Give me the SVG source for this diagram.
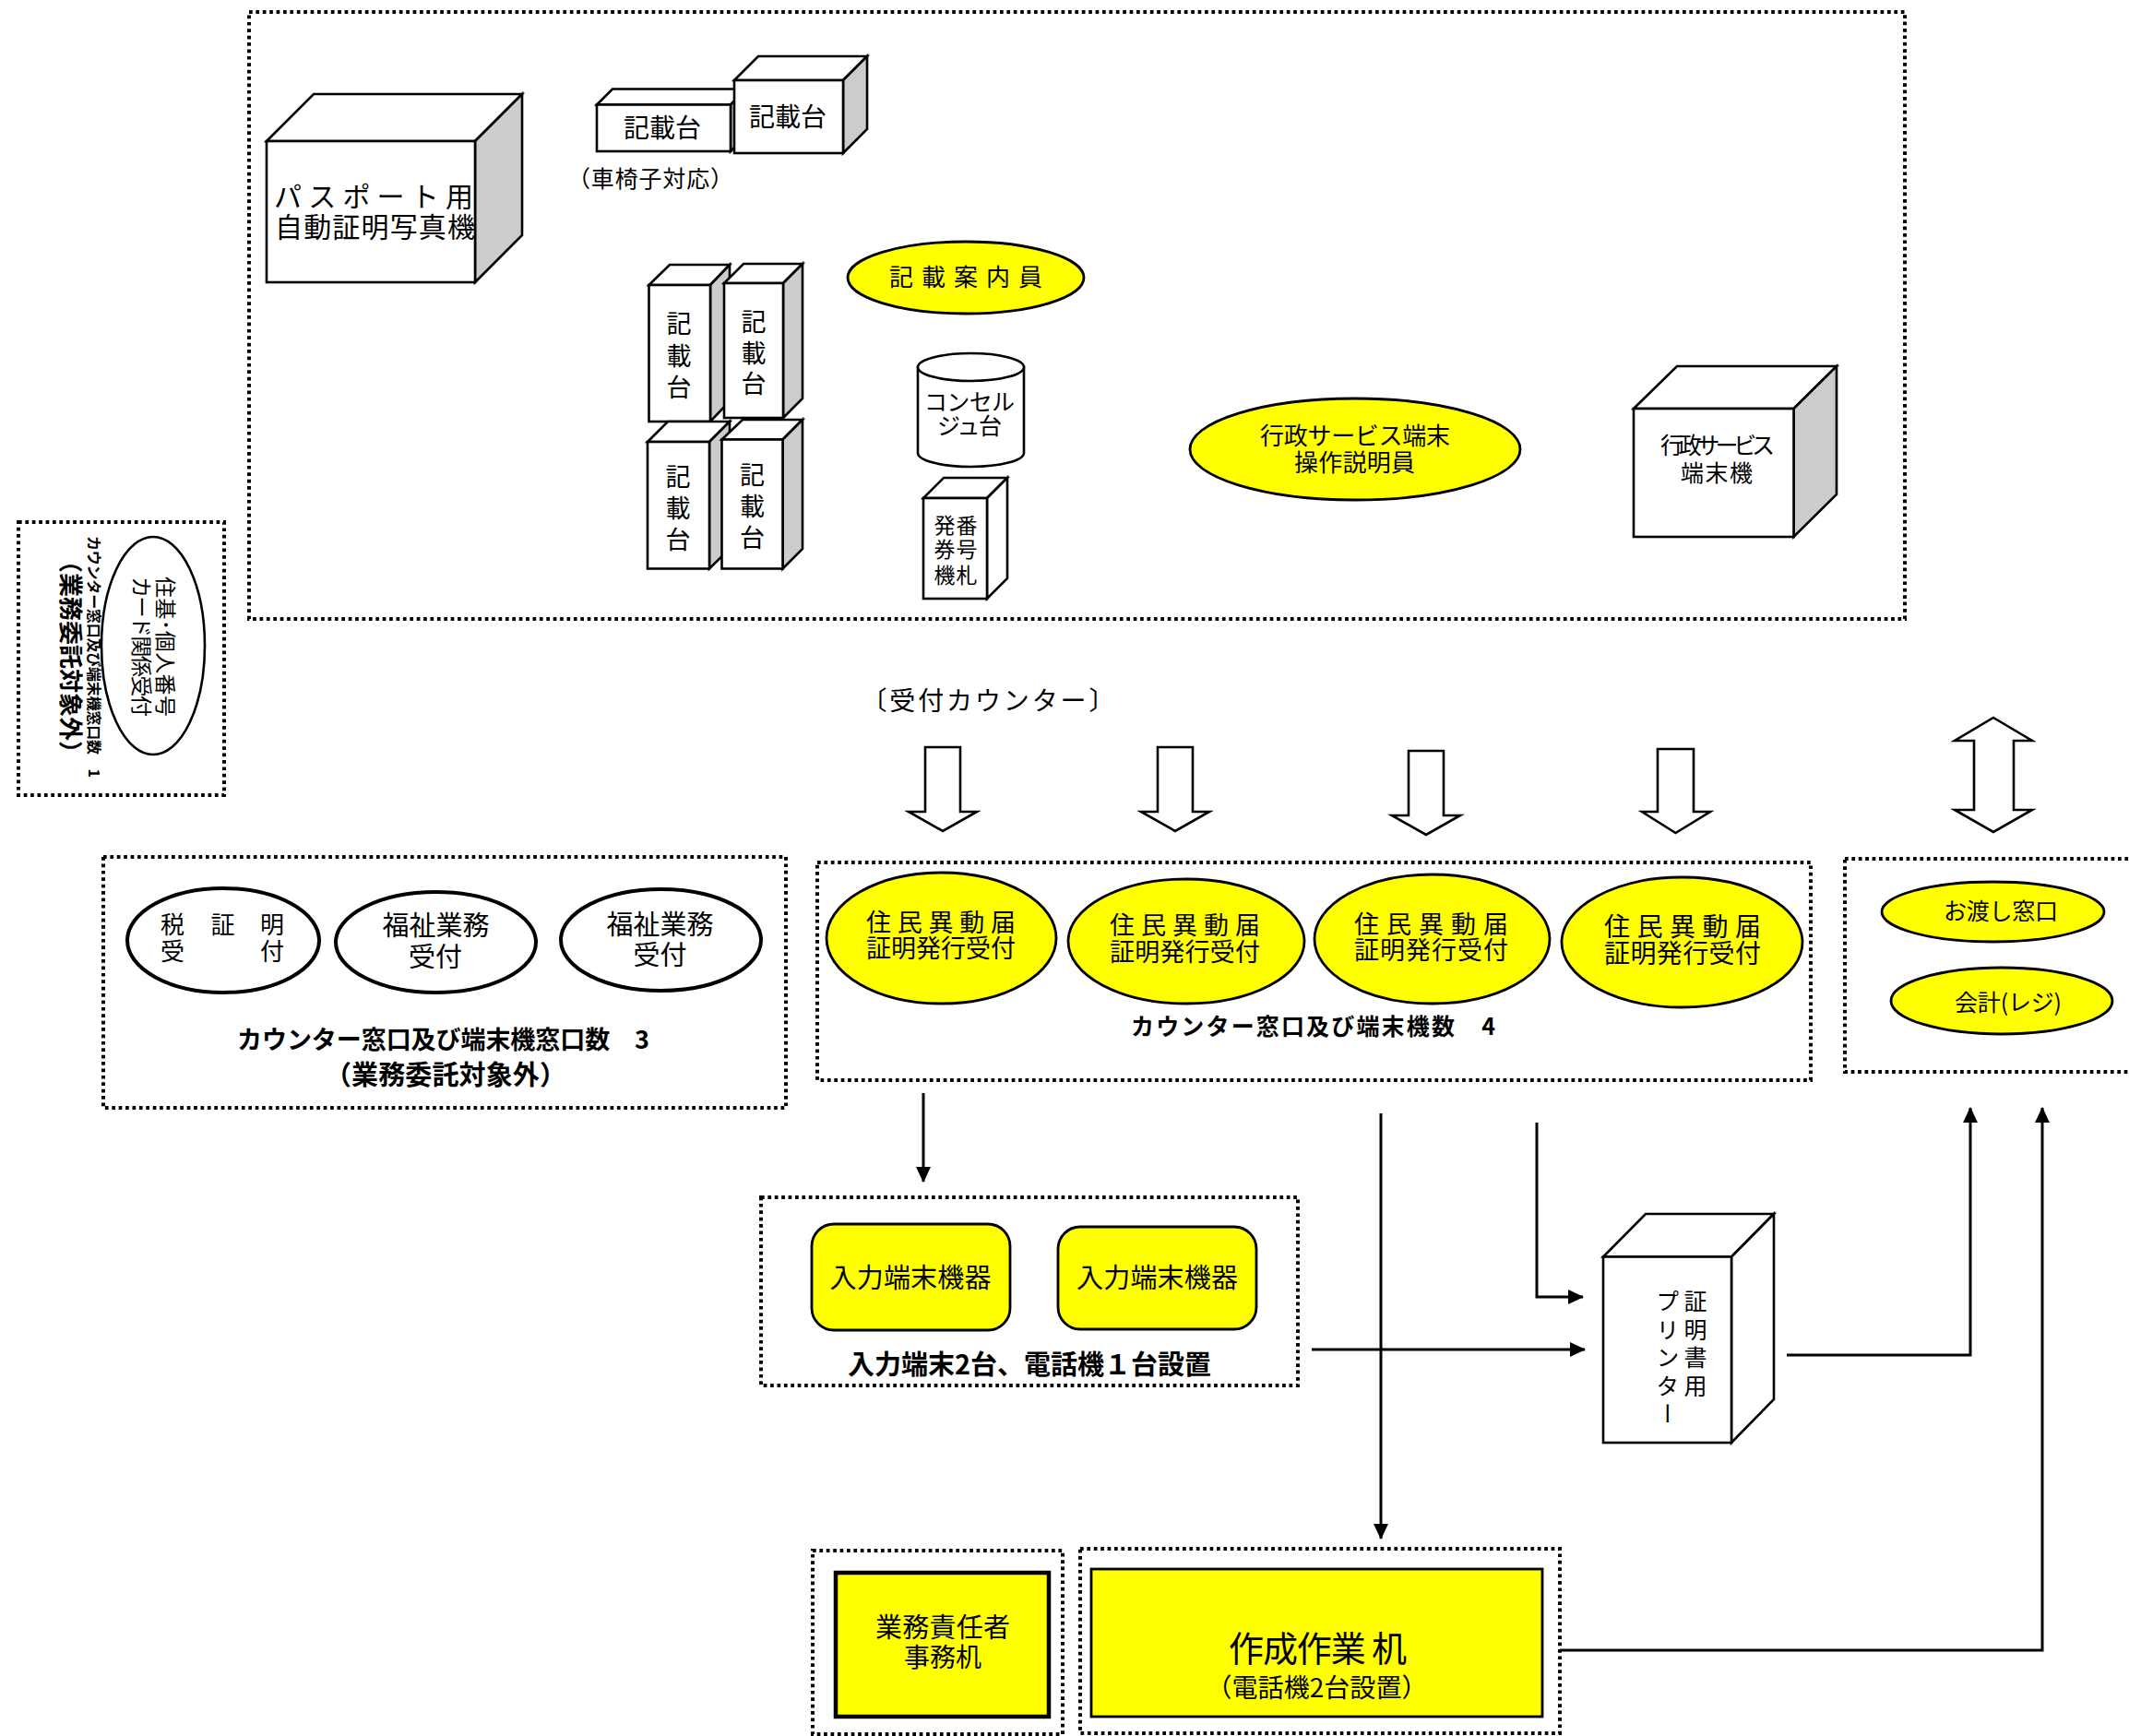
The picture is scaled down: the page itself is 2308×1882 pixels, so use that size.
<svg xmlns="http://www.w3.org/2000/svg" width="2308" height="1882" viewBox="0 0 2308 1882">
<style>
text{font-family:"Noto Sans CJK JP","Noto Sans",sans-serif;fill:#000;text-anchor:middle;dominant-baseline:central;font-size:26px}
.b{font-weight:700}
.frame{fill:none;stroke:#000;stroke-width:4;stroke-dasharray:3.7 3.7}
.s{fill:#fff;stroke:#000;stroke-width:2.6;stroke-linejoin:miter}
.g{fill:#ccc;stroke:#000;stroke-width:2.6}
.y{fill:#ff0;stroke:#000;stroke-width:2.8}
.o{fill:#fff;stroke:#000;stroke-width:4}
.h{fill:#fff;stroke:#000;stroke-width:2.6}
.c{fill:none;stroke:#000;stroke-width:3}
.v{writing-mode:vertical-rl;text-anchor:start}
</style>
<defs>
<marker id="a" markerUnits="userSpaceOnUse" markerWidth="17" markerHeight="16" refX="16" refY="8" orient="auto"><path d="M0 0L17 8L0 16Z" fill="#000"/></marker>
</defs>
<rect width="2308" height="1882" fill="#fff"/>
<g id="frames">
<rect class="frame" x="270" y="13" width="1795" height="658"/>
<rect class="frame" x="20" y="566" width="223" height="296"/>
<rect class="frame" x="112" y="929" width="740" height="272"/>
<rect class="frame" x="886" y="935" width="1077" height="236"/>
<rect class="frame" x="2000" y="931" width="330" height="231"/>
<rect class="frame" x="825" y="1298" width="582" height="204"/>
<rect class="frame" x="881" y="1681" width="271" height="199"/>
<rect class="frame" x="1171" y="1679" width="520" height="200"/>
</g>
<g id="connectors">
<path class="c" marker-end="url(#a)" d="M1001 1185V1281"/>
<path class="c" marker-end="url(#a)" d="M1497 1207V1668"/>
<path class="c" marker-end="url(#a)" d="M1666 1217V1406H1716"/>
<path class="c" marker-end="url(#a)" d="M1422 1463H1718"/>
<path class="c" marker-end="url(#a)" d="M1937 1469H2136V1201"/>
<path class="c" marker-end="url(#a)" d="M1691 1789H2214V1201"/>
<path class="h" d="M1003 810H1041V880H1059L1022 901L985 880H1003Z"/>
<path class="h" d="M1255 810H1293V880H1311L1274 901L1237 880H1255Z"/>
<path class="h" d="M1527 814H1565V884H1583L1546 905L1509 884H1527Z"/>
<path class="h" d="M1797 812H1836V880H1854L1816.500 903L1780 880H1797Z"/>
<path class="h" d="M2161 778L2203 803H2183V878H2203L2161 902L2119 878H2140V803H2119Z"/>
</g>
<g id="passport-photo">
<path class="s" d="M289 153L340 102H566L515 153Z"/><path class="g" d="M515 153L566 102V255L515 306Z"/><rect class="s" x="289" y="153" width="226" height="153"/>
<text x="405" y="210.500" style="font-size:30px" textLength="216">パスポート用</text>
<text x="406.500" y="244" style="font-size:30px" textLength="217">自動証明写真機</text>
</g>
<g id="desk-a">
<path class="s" d="M647 113.500L664 96.500H809L792 113.500Z"/><path class="g" d="M792 113.500L809 96.500V147L792 164Z"/><rect class="s" x="647" y="113.500" width="145" height="50.500"/>
<text x="718" y="136.500" textLength="84" style="font-size:28px">記載台</text>
</g>
<g id="desk-b">
<path class="s" d="M796 87L822 61H940L914 87Z"/><path class="g" d="M914 87L940 61V140L914 166Z"/><rect class="s" x="796" y="87" width="118" height="79"/>
<text x="854" y="124.500" textLength="84" style="font-size:28px">記載台</text>
</g>
<text id="wheelchair" x="705" y="192" textLength="180" style="font-size:25px">（車椅子対応）</text>
<g id="desk-c">
<path class="s" d="M703.500 309L726 287H791L770 309Z"/><path class="g" d="M770 309L791 287V435L770 457Z"/><rect class="s" x="703.500" y="309" width="66.500" height="148"/>
<text style="font-size:27px"><tspan x="736" y="348.500">記</tspan><tspan x="736" y="383.500">載</tspan><tspan x="736" y="417.500">台</tspan></text>
</g>
<g id="desk-d">
<path class="s" d="M785 307L806 286H870L849 307Z"/><path class="g" d="M849 307L870 286V432L849 453Z"/><rect class="s" x="785" y="307" width="64" height="146"/>
<text style="font-size:27px"><tspan x="817" y="346.500">記</tspan><tspan x="817" y="380.500">載</tspan><tspan x="817" y="414">台</tspan></text>
</g>
<g id="desk-e">
<path class="s" d="M702 479L724 457H791L769 479Z"/><path class="g" d="M769 479L791 457V595L769 616.500Z"/><rect class="s" x="702" y="479" width="67" height="137.500"/>
<text style="font-size:27px"><tspan x="735" y="514.500">記</tspan><tspan x="735" y="548.500">載</tspan><tspan x="735" y="582.500">台</tspan></text>
</g>
<g id="desk-f">
<path class="s" d="M782.500 476.500L805 455H870L848.500 476.500Z"/><path class="g" d="M848.500 476.500L870 455V595L848.500 616.500Z"/><rect class="s" x="782.500" y="476.500" width="66" height="140"/>
<text style="font-size:27px"><tspan x="815.500" y="512.500">記</tspan><tspan x="815.500" y="546.500">載</tspan><tspan x="815.500" y="580.500">台</tspan></text>
</g>
<g id="guide">
<ellipse class="y" cx="1047" cy="301" rx="128" ry="39"/>
<text x="1047" y="298" textLength="166" style="font-size:26px">記載案内員</text>
</g>
<g id="concierge">
<path class="s" d="M995 398V491A57.500 15 0 0 0 1110 491V398Z"/><ellipse class="s" cx="1052.500" cy="398" rx="57.500" ry="15"/>
<text x="1051" y="433.500" textLength="98" style="font-size:25px">コンセル</text>
<text x="1051" y="459.500" textLength="70" style="font-size:25px">ジュ台</text>
</g>
<g id="ticket">
<path class="s" d="M1001 540L1023 518H1092L1070 540Z"/><path class="s" d="M1070 540L1092 518V627L1070 649Z"/><rect class="s" x="1001" y="540" width="69" height="109"/>
<text x="1036" y="567.500" textLength="47" style="font-size:23px">発番</text>
<text x="1036" y="594" textLength="47" style="font-size:23px">券号</text>
<text x="1036" y="622" textLength="47" style="font-size:23px">機札</text>
</g>
<g id="admin-guide">
<ellipse class="y" cx="1469" cy="487" rx="179" ry="55"/>
<text x="1469" y="470.500" textLength="206" style="font-size:26px">行政サービス端末</text>
<text x="1468.500" y="499.500" textLength="131" style="font-size:26px">操作説明員</text>
</g>
<g id="admin-terminal">
<path class="s" d="M1771 443L1818 397H1991L1944.500 443Z"/><path class="g" d="M1944.500 443L1991 397V536L1944.500 582Z"/><rect class="s" x="1771" y="443" width="173.500" height="139"/>
<text x="1862" y="480.500" textLength="124" style="font-size:25px">行政サービス</text>
<text x="1861" y="510.500" textLength="78" style="font-size:25px">端末機</text>
</g>
<g id="juki">
<ellipse class="s" cx="166" cy="700" rx="56" ry="118"/>
<text transform="translate(181 701) rotate(90)" textLength="152" style="font-size:23px">住基･個人番号</text>
<text transform="translate(155 701) rotate(90)" textLength="152" style="font-size:23px">カード関係受付</text>
<text class="b" transform="translate(103 712) rotate(90)" textLength="262" style="font-size:16px">カウンター窓口及び端末機窓口数　1</text>
<text class="b" transform="translate(78 712) rotate(90)" textLength="234" style="font-size:26px">（業務委託対象外）</text>
</g>
<g id="tax">
<ellipse class="o" cx="242" cy="1019.500" rx="104" ry="56.500"/>
<text x="187" y="1000.500">税</text><text x="241.500" y="1000.500">証</text><text x="295" y="1000.500">明</text><text x="187" y="1029.500">受</text><text x="295" y="1029.500">付</text>
</g>
<g id="welfare-1">
<ellipse class="o" cx="472.500" cy="1021.500" rx="108.500" ry="54.500"/>
<text x="472.500" y="1000.500" style="font-size:29px">福祉業務</text><text x="472" y="1034.500" style="font-size:29px">受付</text>
</g>
<g id="welfare-2">
<ellipse class="o" cx="716.500" cy="1019" rx="108.500" ry="55"/>
<text x="715.500" y="999.500" style="font-size:29px">福祉業務</text><text x="715.500" y="1032.500" style="font-size:29px">受付</text>
</g>
<text class="b" x="480.500" y="1125.500" textLength="447" style="font-size:27px">カウンター窓口及び端末機窓口数　3</text>
<text class="b" x="483" y="1162.500" textLength="262" style="font-size:29px">（業務委託対象外）</text>
<text id="reception" x="1071" y="757.500" textLength="275" style="font-size:28px">〔受付カウンター〕</text>
<g id="counter-1">
<ellipse class="y" cx="1020.500" cy="1017" rx="124.500" ry="71"/>
<text x="1020" y="998.500" textLength="162" style="font-size:27px">住民異動届</text><text x="1020" y="1026.500" textLength="162" style="font-size:27px">証明発行受付</text>
</g>
<g id="counter-2">
<ellipse class="y" cx="1286" cy="1020.500" rx="128" ry="67.500"/>
<text x="1284.500" y="1001.500" textLength="163" style="font-size:27px">住民異動届</text><text x="1284.500" y="1030.500" textLength="163" style="font-size:27px">証明発行受付</text>
</g>
<g id="counter-3">
<ellipse class="y" cx="1552.500" cy="1018" rx="127.500" ry="70"/>
<text x="1551.500" y="1000.500" textLength="167" style="font-size:27px">住民異動届</text><text x="1551.500" y="1028.500" textLength="167" style="font-size:27px">証明発行受付</text>
</g>
<g id="counter-4">
<ellipse class="y" cx="1823.500" cy="1021.500" rx="130.500" ry="70.500"/>
<text x="1824" y="1002.500" textLength="170" style="font-size:28px">住民異動届</text><text x="1824" y="1031.500" textLength="170" style="font-size:28px">証明発行受付</text>
</g>
<text class="b" x="1423.500" y="1110.500" textLength="395" style="font-size:25px">カウンター窓口及び端末機数　4</text>
<g id="handover">
<ellipse class="y" cx="2160.500" cy="988.500" rx="120.500" ry="32.500"/>
<text x="2169" y="985.500" textLength="124" style="font-size:25px">お渡し窓口</text>
</g>
<g id="cashier">
<ellipse class="y" cx="2170" cy="1085" rx="120" ry="36"/>
<text x="2177" y="1084.500" textLength="116" style="font-size:25px">会計(レジ)</text>
</g>
<g id="input-1">
<rect class="y" x="880" y="1327" width="215" height="115" rx="24"/>
<text x="987" y="1383" textLength="175" style="font-size:29px">入力端末機器</text>
</g>
<g id="input-2">
<rect class="y" x="1147" y="1330" width="215" height="111" rx="24"/>
<text x="1254.500" y="1383" textLength="175" style="font-size:29px">入力端末機器</text>
</g>
<text class="b" x="1116" y="1476.500" textLength="394" style="font-size:29px">入力端末2台、電話機１台設置</text>
<g id="printer">
<path class="s" d="M1738 1362.500L1784 1316H1923L1877 1362.500Z"/><path class="s" d="M1877 1362.500L1923 1316V1517L1877 1564Z"/><rect class="s" x="1738" y="1362.500" width="139" height="201.500"/>
<text class="v" x="1838" y="1398" style="font-size:25px;letter-spacing:5.500px">証明書用</text>
<text class="v" x="1808" y="1398" style="font-size:25px;letter-spacing:5.500px">プリンター</text>
</g>
<g id="manager-desk">
<rect x="906" y="1705" width="231" height="156" fill="#ff0" stroke="#000" stroke-width="4.500"/>
<text x="1022" y="1761.500" textLength="146" style="font-size:29px">業務責任者</text>
<text x="1022" y="1794.500" textLength="84" style="font-size:28px">事務机</text>
</g>
<g id="work-desk">
<rect class="y" x="1183" y="1701" width="489" height="160"/>
<text x="1428.500" y="1784" textLength="193" style="font-size:38px">作成作業 机</text>
<text x="1427.500" y="1827.500" textLength="240" style="font-size:28px">（電話機2台設置）</text>
</g>
</svg>
